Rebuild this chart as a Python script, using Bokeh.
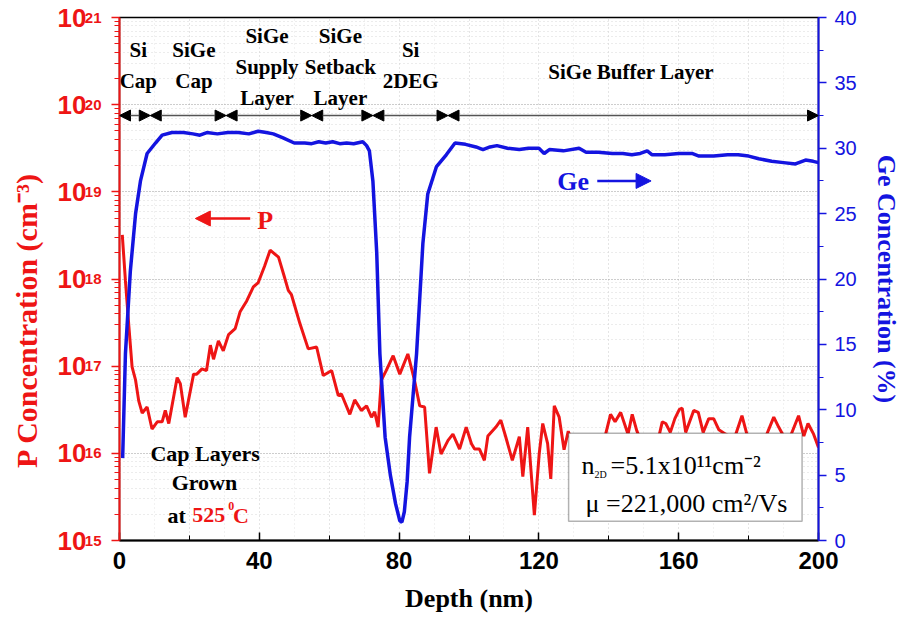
from bokeh.embed import file_html
from bokeh.models import (Arrow, BoxAnnotation, CustomJSTickFormatter, FixedTicker, Label,
                          LinearAxis, LinearScale, LogAxis, NormalHead, Range1d,
                          SingleIntervalTicker)
from bokeh.plotting import figure
from bokeh.resources import INLINE

# ---------------------------------------------------------------- data
# SIMS phosphorus profile: depth (nm) and concentration (cm^-3)
P_DEPTH = [
    0.8, 1.7, 2.7, 3.6, 4.6, 5.5, 6.5, 7.9, 9.3, 10.8,
    12.2, 13.1, 14.1, 16.5, 17.4, 18.8, 21.2, 22.1, 23.6, 24.9,
    26.0, 26.9, 28.3, 29.7, 31.2, 33.1, 34.5, 36.4, 38.3, 39.7,
    41.5, 43.1, 45.5, 47.0, 48.3, 49.2, 51.6, 54.0, 56.4, 58.3,
    60.7, 62.6, 63.5, 65.9, 67.3, 69.2, 70.7, 72.1, 73.0, 74.0,
    74.9, 76.3, 78.3, 80.2, 82.5, 84.4, 85.9, 87.3, 88.7, 90.6,
    92.0, 94.0, 95.4, 97.3, 99.2, 100.7, 101.6, 103.0, 104.4, 105.4,
    107.7, 109.1, 110.5, 112.4, 114.4, 115.4, 116.8, 118.7, 120.1, 121.1,
    122.5, 123.4, 124.4, 125.8, 127.2, 128.4, 130.0, 132.0, 134.0, 136.0,
    138.0, 139.1, 140.5, 141.8, 143.4, 145.5, 146.7, 148.0, 149.6, 151.5,
    153.5, 155.3, 156.3, 157.6, 158.9, 160.2, 161.0, 162.0, 164.3, 165.6,
    167.0, 168.6, 170.0, 171.5, 173.0, 174.5, 176.0, 178.1, 179.5, 181.0,
    183.0, 185.0, 187.2, 188.6, 190.0, 192.0, 194.3, 195.8, 197.0, 198.6, 200.0,
]
P_CONC = [
    3.2e18, 9.5e17, 2.8e17, 9.8e16, 6.9e16, 4.0e16, 2.9e16, 3.4e16, 1.9e16, 2.3e16,
    2.3e16, 3.1e16, 2.2e16, 7.4e16, 6.3e16, 2.6e16, 8.1e16, 8.1e16, 9.3e16, 8.9e16,
    1.74e17, 1.2e17, 1.95e17, 1.5e17, 2.3e17, 2.7e17, 4.2e17, 5.6e17, 8.1e17, 9.1e17,
    1.4e18, 2.14e18, 1.78e18, 1.12e18, 7.4e17, 6.6e17, 3.1e17, 1.58e17, 1.66e17, 7.8e16,
    8.9e16, 4.6e16, 4.8e16, 2.8e16, 4.1e16, 3.1e16, 3.5e16, 2.6e16, 3.0e16, 2.0e16,
    6.9e16, 8.9e16, 1.32e17, 8.1e16, 1.38e17, 6.9e16, 3.5e16, 3.4e16, 5.9e15, 2.0e16,
    9.8e15, 1.41e16, 1.66e16, 1.12e16, 2.0e16, 1.29e16, 1.12e16, 1.12e16, 8.3e15, 1.58e16,
    2.0e16, 2.4e16, 1.55e16, 8.3e15, 1.55e16, 5.4e15, 2.0e16, 1.95e15, 1.0e16, 2.2e16,
    1.29e16, 5.1e15, 3.5e16, 2.6e16, 1.1e16, 1.8e16, 1.12e16, 1.58e16, 8.9e15, 1.41e16,
    1.26e16, 1.66e16, 2.8e16, 2.3e16, 2.95e16, 1.66e16, 2.8e16, 1.82e16, 1.26e16, 1.41e16,
    1.12e16, 2.3e16, 2.2e16, 1.74e16, 2.5e16, 3.2e16, 3.3e16, 1.74e16, 3.1e16, 2.95e16,
    1.74e16, 2.5e16, 2.5e16, 1.86e16, 1.7e16, 1.58e16, 1.51e16, 2.7e16, 1.66e16, 1.41e16,
    1.26e16, 1.58e16, 2.6e16, 2.0e16, 1.58e16, 1.58e16, 2.7e16, 1.58e16, 2.2e16, 1.66e16, 1.17e16,
]

# Ge fraction profile: depth (nm) and Ge content (%)
GE_DEPTH = [
    0.9, 1.7, 3.1, 4.6, 6.0, 7.9, 10.3, 12.2, 15.0, 18.3,
    21.0, 23.0, 25.0, 28.0, 31.0, 34.0, 37.0, 39.7, 42.0, 44.0,
    46.8, 50.0, 53.0, 55.0, 57.0, 59.0, 61.0, 63.0, 65.0, 67.0,
    69.6, 70.7, 71.5, 72.5, 73.6, 74.5, 76.0, 77.5, 79.0, 80.2,
    80.8, 81.5, 82.3, 83.0, 85.0, 86.8, 88.2, 90.7, 93.5, 96.0,
    99.0, 102.0, 104.0, 106.0, 108.0, 111.0, 114.4, 117.0, 120.0, 121.5,
    123.0, 127.0, 131.5, 133.5, 137.0, 141.0, 144.0, 146.6, 149.0, 151.0,
    152.4, 156.0, 160.0, 163.8, 165.8, 170.0, 174.0, 177.0, 180.0, 182.9,
    186.6, 190.0, 193.4, 196.3, 198.5, 200.0,
]
GE_PCT = [
    6.3, 14.3, 20.6, 25.0, 27.5, 29.6, 30.4, 31.0, 31.2, 31.2,
    31.1, 31.0, 31.2, 31.1, 31.2, 31.2, 31.1, 31.3, 31.2, 31.1,
    30.8, 30.4, 30.4, 30.35, 30.5, 30.4, 30.5, 30.35, 30.4, 30.35,
    30.5, 30.2, 29.8, 27.5, 22.0, 14.3, 7.9, 5.0, 2.8, 1.5,
    1.4, 2.2, 4.5, 7.9, 14.3, 22.7, 26.5, 28.6, 29.5, 30.4,
    30.3, 30.1, 29.9, 30.1, 30.2, 30.0, 29.9, 30.0, 30.0, 29.6,
    29.9, 29.8, 30.0, 29.7, 29.7, 29.6, 29.6, 29.5, 29.6, 29.8,
    29.5, 29.5, 29.6, 29.6, 29.4, 29.4, 29.5, 29.5, 29.4, 29.2,
    29.0, 28.9, 28.8, 29.1, 29.0, 28.9,
]

# layer stack: boundaries (nm) and labels centred over each layer
LAYER_BOUNDS = [0.0, 8.8, 30.5, 55.0, 72.5, 94.0, 200.0]
LAYER_LABEL_X = [5.4, 21.3, 42.2, 63.2, 83.3, 146.4]
LAYER_LABELS = [
    ["Si", "Cap"],
    ["SiGe", "Cap"],
    ["SiGe", "Supply", "Layer"],
    ["SiGe", "Setback", "Layer"],
    ["Si", "2DEG"],
    ["SiGe Buffer Layer"],
]
LAYER_ARROW_Y = 7.5e19

P_DECADES = [15, 16, 17, 18, 19, 20, 21]
GE_RANGE = (0, 40)

RED = "#ee1515"
BLUE = "#1414e0"
SERIF = "Liberation Serif"
SANS = "Liberation Sans"
NBSP = "\u00a0"

# ---------------------------------------------------------------- figure
p = figure(
    width=903, height=620,
    y_axis_type="log",
    x_range=Range1d(0, 200), y_range=Range1d(10.0 ** P_DECADES[0], 10.0 ** P_DECADES[-1]),
    output_backend="svg", toolbar_location=None,
    min_border_left=119, min_border_right=83, min_border_top=17, min_border_bottom=80,
    background_fill_color="white", border_fill_color="white",
)
p.extra_y_ranges = {"ge": Range1d(*GE_RANGE)}
p.extra_y_scales = {"ge": LinearScale()}
p.outline_line_color = "black"
p.outline_line_width = 1.5

# left (log) axis: ticks and exponents; the "10" mantissas sit on a second axis outside it
major = [10.0 ** k for k in P_DECADES]
minor = [m * 10.0 ** k for k in P_DECADES[:-1] for m in range(2, 10)]
log_ticker = FixedTicker(ticks=major, minor_ticks=minor)
left = p.yaxis[0]
left.ticker = log_ticker
left.formatter = CustomJSTickFormatter(code="return Math.round(Math.log10(tick)).toString()")
left.axis_line_color = RED
left.axis_line_width = 2
left.major_tick_line_color = RED
left.minor_tick_line_color = RED
left.major_tick_line_width = 1.5
left.major_tick_out = 8
left.major_tick_in = 0
left.minor_tick_out = 5
left.minor_tick_in = 0
left.major_label_standoff = 10
left.major_label_text_font = SANS
left.major_label_text_font_style = "bold"
left.major_label_text_font_size = "15px"
left.major_label_text_color = RED
left.major_label_text_baseline = "bottom"

mantissa = LogAxis(ticker=log_ticker,
                   formatter=CustomJSTickFormatter(code="return '10'"))
mantissa.axis_line_color = None
mantissa.major_tick_line_color = None
mantissa.minor_tick_line_color = None
mantissa.major_tick_out = 0
mantissa.minor_tick_out = 0
mantissa.major_label_standoff = -5
mantissa.major_label_text_font = SANS
mantissa.major_label_text_font_style = "bold"
mantissa.major_label_text_font_size = "26px"
mantissa.major_label_text_color = RED
# trailing no-break spaces lower the title along the axis
mantissa.axis_label = "P Concentration (cm\u207b\u00b3)" + NBSP * 11
mantissa.axis_label_standoff = 12
mantissa.axis_label_text_font = SERIF
mantissa.axis_label_text_font_style = "bold"
mantissa.axis_label_text_font_size = "30px"
mantissa.axis_label_text_color = RED
p.add_layout(mantissa, "left")

p.ygrid.ticker = log_ticker
p.ygrid.grid_line_color = "#9a9a9a"
p.ygrid.grid_line_dash = "1 2"
p.ygrid.minor_grid_line_color = "#d8d8d8"
p.ygrid.minor_grid_line_dash = "1 3"

# bottom axis
x_ticker = SingleIntervalTicker(interval=40, num_minor_ticks=2)
bottom = p.xaxis[0]
bottom.ticker = x_ticker
bottom.axis_line_color = "black"
bottom.axis_line_width = 2
bottom.major_tick_in = 8
bottom.major_tick_out = 0
bottom.minor_tick_in = 5
bottom.minor_tick_out = 0
bottom.major_tick_line_width = 1.5
bottom.major_label_standoff = 11
bottom.major_label_text_font = SANS
bottom.major_label_text_font_style = "bold"
bottom.major_label_text_font_size = "24px"
bottom.major_label_text_color = "black"
bottom.axis_label = "Depth (nm)"
bottom.axis_label_standoff = 12
bottom.axis_label_text_font = SERIF
bottom.axis_label_text_font_style = "bold"
bottom.axis_label_text_font_size = "26px"
bottom.axis_label_text_color = "black"
p.xgrid.ticker = SingleIntervalTicker(interval=20, num_minor_ticks=2)
p.xgrid.grid_line_color = "#d8d8d8"
p.xgrid.grid_line_dash = "1 3"
p.xgrid.minor_grid_line_color = "#e4e4e4"
p.xgrid.minor_grid_line_dash = "1 3"

# right axis for Ge content
ge_axis = LinearAxis(y_range_name="ge", ticker=SingleIntervalTicker(interval=5, num_minor_ticks=2))
ge_axis.axis_line_color = BLUE
ge_axis.axis_line_width = 2
ge_axis.major_tick_line_color = BLUE
ge_axis.minor_tick_line_color = BLUE
ge_axis.major_tick_line_width = 1.5
ge_axis.major_tick_out = 8
ge_axis.major_tick_in = 0
ge_axis.minor_tick_out = 5
ge_axis.minor_tick_in = 0
ge_axis.major_label_standoff = 8
ge_axis.major_label_text_font = SANS
ge_axis.major_label_text_font_size = "20px"
ge_axis.major_label_text_color = BLUE
ge_axis.axis_label = "Ge Concentration (%)"
ge_axis.axis_label_standoff = 12
ge_axis.axis_label_text_font = SERIF
ge_axis.axis_label_text_font_style = "bold"
ge_axis.axis_label_text_font_size = "26px"
ge_axis.axis_label_text_color = BLUE
p.add_layout(ge_axis, "right")

# ---------------------------------------------------------------- profiles
p.line(P_DEPTH, P_CONC, line_color=RED, line_width=3)
p.line(GE_DEPTH, GE_PCT, line_color=BLUE, line_width=3.5, y_range_name="ge")


def label(x, y, text, size, color="black", font=SERIF, style="bold", align="center",
          baseline="middle", dx=0, dy=0, y_range_name="default"):
    p.add_layout(Label(x=x, y=y, text=text, x_offset=dx, y_offset=dy,
                       y_range_name=y_range_name,
                       text_font=font, text_font_style=style, text_font_size=f"{size}px",
                       text_color=color, text_align=align, text_baseline=baseline))


# layer stack arrows and names
for x0, x1 in zip(LAYER_BOUNDS[:-1], LAYER_BOUNDS[1:]):
    p.add_layout(Arrow(x_start=x0, y_start=LAYER_ARROW_Y, x_end=x1, y_end=LAYER_ARROW_Y,
                       line_color="#555555", line_width=1.5,
                       start=NormalHead(size=11, fill_color="black", line_color="black"),
                       end=NormalHead(size=11, fill_color="black", line_color="black")))
for lx, lines in zip(LAYER_LABEL_X, LAYER_LABELS):
    top = {1: 44, 2: 66, 3: 80}[len(lines)]
    for i, t in enumerate(lines):
        label(lx, LAYER_ARROW_Y, t, 21, "black", dy=top - 31 * i)

# series markers
p.add_layout(Arrow(x_start=37.4, y_start=4.94e18, x_end=21.7, y_end=4.94e18,
                   line_color=RED, line_width=2.5,
                   end=NormalHead(size=15, fill_color=RED, line_color=RED)))
label(41.7, 4.69e18, "P", 26, RED)
p.add_layout(Arrow(x_start=136.7, y_start=27.5, x_end=152.1, y_end=27.5, y_range_name="ge",
                   line_color=BLUE, line_width=2.5,
                   end=NormalHead(size=15, fill_color=BLUE, line_color=BLUE)))
label(129.8, 27.45, "Ge", 26, BLUE, y_range_name="ge")

# growth note
label(24.5, 9.96e15, "Cap Layers", 22, "black")
label(24.3, 4.63e15, "Grown", 22, "black")
label(13.7, 1.94e15, "at", 22, "black", align="left")
label(20.8, 1.94e15, "525", 22, RED, align="left")
label(31.1, 1.94e15, "0", 12, RED, align="left", dy=9)
label(32.5, 1.94e15, "C", 22, RED, align="left")

# Hall data box
BOX_L, BOX_R, BOX_B, BOX_T = 128.5, 195.3, 1.66e15, 1.70e16
p.add_layout(BoxAnnotation(left=BOX_L, right=BOX_R, bottom=BOX_B, top=BOX_T,
                           fill_color="white", fill_alpha=1.0,
                           line_color="black", line_width=1.5))
box_text = [
    ("n", 26, 13, -32),
    ("2D", 10, 26, -41),
    ("=5.1x10\u00b9\u00b9cm\u207b\u00b2", 26, 42, -32),
    ("\u03bc =221,000 cm\u00b2/Vs", 26, 17, -70),
]
for t, size, dx, dy in box_text:
    label(BOX_L, BOX_T, t, size, "black", style="normal", align="left",
          baseline="alphabetic", dx=dx, dy=dy)

open("out.html", "w").write(file_html(p, INLINE))
